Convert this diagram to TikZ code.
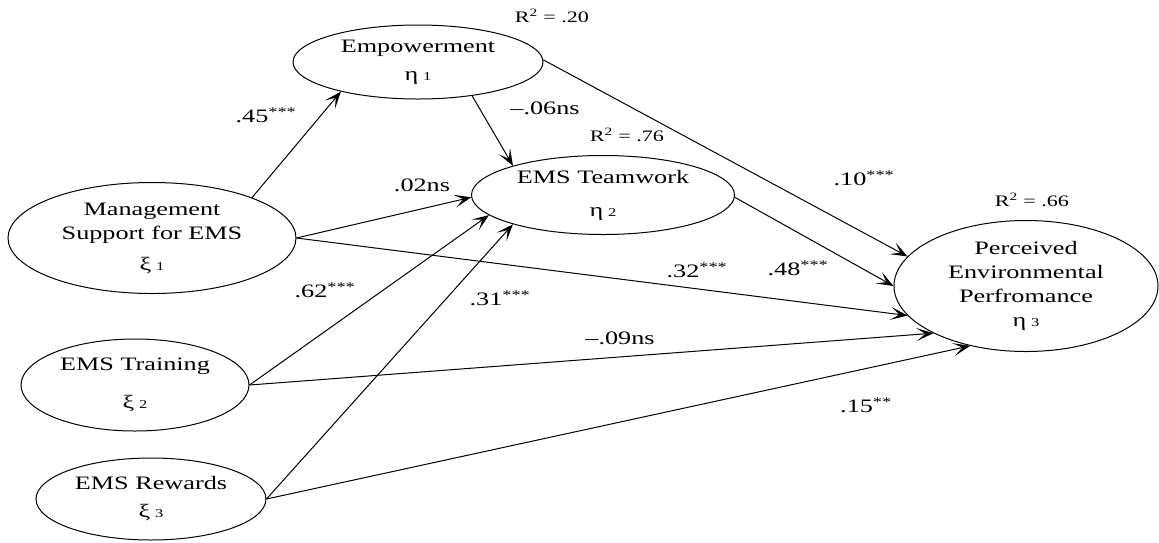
\documentclass[tikz,border=0pt]{standalone}
\usepackage{fontspec}
\setmainfont{Liberation Serif}[FakeStretch=1.38]
\usetikzlibrary{shapes.geometric, arrows.meta}
\tikzset{
	latent/.style={
		ellipse, draw, line width=1pt,
		align=center, inner sep=0pt,
		font=\fontsize{19}{24}\selectfont,
	},
	effect/.style={
		draw, line width=1pt, -{Stealth[length=17pt, width=13pt, inset=9pt]},
	},
	coef/.style={font=\fontsize{19}{23}\selectfont},
	rsq/.style={font=\fontsize{16}{19}\selectfont},
}
\newcommand{\idx}[1]{\hspace{5pt}{\fontsize{12}{12}\selectfont #1}}

\begin{document}
\begin{tikzpicture}[x=1pt, y=-1pt]
	\useasboundingbox (0,0) rectangle (1159,542);
	
	\node [latent, minimum width=250pt, minimum height=74pt] (emp) at (418,62) {Empowerment\\[4pt] η\idx{1}};
	\node [latent, minimum width=263pt, minimum height=79pt] (team) at (603,195) {EMS Teamwork\\[9pt] η\idx{2}};
	\node [latent, minimum width=288pt, minimum height=111pt] (mgmt) at (152,238) {Management\\ Support for EMS\\[7pt] ξ\idx{1}};
	\node [latent, minimum width=264pt, minimum height=131pt] (perc) at (1026,286) {Perceived\\ Environmental\\ Perfromance\\ η\idx{3}};
	\node [latent, minimum width=228pt, minimum height=92pt] (train) at (135,385) {EMS Training\\[14pt] ξ\idx{2}};
	\node [latent, minimum width=230pt, minimum height=82pt] (rew) at (151,499) {EMS Rewards\\[4pt] ξ\idx{3}};
	
	\path [effect] (mgmt.22) -- (emp.201);
	\path [effect] (emp.328) -- (team.162);
	\path [effect] (emp.1) -- (perc.166);
	\path [effect] (mgmt.0) -- (team.181);
	\path [effect] (mgmt.0) -- (perc.194);
	\path [effect] (team.359) -- (perc.180);
	\path [effect] (train.0) -- (team.190);
	\path [effect] (train.0) -- (perc.207);
	\path [effect] (rew.0) -- (team.198);
	\path [effect] (rew.0) -- (perc.227);
	
	\node [rsq] (r2emp) at (552,16) {R\textsuperscript{2} = .20};
	\node [rsq] (r2team) at (627,135) {R\textsuperscript{2} = .76};
	\node [rsq] (r2perc) at (1032,200) {R\textsuperscript{2} = .66};
	
	\node [coef] (c45) at (266,115) {.45\textsuperscript{***}};
	\node [coef] (c06) at (545,108) {–.06ns};
	\node [coef] (c02) at (422,185) {.02ns};
	\node [coef] (c10) at (864,178) {.10\textsuperscript{***}};
	\node [coef] (c32) at (697,270) {.32\textsuperscript{***}};
	\node [coef] (c48) at (798,268) {.48\textsuperscript{***}};
	\node [coef] (c62) at (325,290) {.62\textsuperscript{***}};
	\node [coef] (c31) at (500,298) {.31\textsuperscript{***}};
	\node [coef] (c09) at (620,338) {–.09ns};
	\node [coef] (c15) at (866,405) {.15\textsuperscript{**}};
\end{tikzpicture}
\end{document}
